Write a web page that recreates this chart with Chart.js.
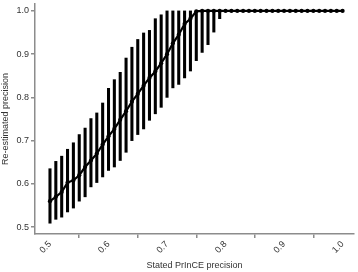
<!DOCTYPE html>
<html>
<head>
<meta charset="utf-8">
<script src="https://cdn.jsdelivr.net/npm/chart.js@4/dist/chart.umd.min.js"></script>
<style>
  html, body { margin: 0; padding: 0; background: #fff; }
  #wrap { width: 358px; height: 272px; position: relative; }
</style>
</head>
<body>
<div id="wrap"><canvas id="chartCanvas"></canvas></div>
<script>
// stated precision (x)
var stated = [0.50, 0.51, 0.52, 0.53, 0.54, 0.55, 0.56, 0.57, 0.58, 0.59,
              0.60, 0.61, 0.62, 0.63, 0.64, 0.65, 0.66, 0.67, 0.68, 0.69,
              0.70, 0.71, 0.72, 0.73, 0.74, 0.75, 0.76, 0.77, 0.78, 0.79,
              0.80, 0.81, 0.82, 0.83, 0.84, 0.85, 0.86, 0.87, 0.88, 0.89,
              0.90, 0.91, 0.92, 0.93, 0.94, 0.95, 0.96, 0.97, 0.98, 0.99, 1.00];
// re-estimated precision, median
var reEst = [0.560, 0.570, 0.581, 0.603, 0.608, 0.620, 0.639, 0.654, 0.670, 0.691,
             0.710, 0.727, 0.748, 0.768, 0.790, 0.808, 0.827, 0.845, 0.860, 0.879,
             0.900, 0.925, 0.945, 0.970, 0.982, 0.999, 1.0, 1.0, 1.0, 1.0,
             1.0, 1.0, 1.0, 1.0, 1.0, 1.0, 1.0, 1.0, 1.0, 1.0,
             1.0, 1.0, 1.0, 1.0, 1.0, 1.0, 1.0, 1.0, 1.0, 1.0, 1.0];
// interval upper bound
var upper = [0.635, 0.652, 0.664, 0.680, 0.695, 0.714, 0.729, 0.751, 0.764, 0.787,
             0.821, 0.841, 0.858, 0.891, 0.916, 0.934, 0.949, 0.955, 0.982, 0.991,
             1.0, 1.0, 1.0, 1.0, 1.0, 1.0, 1.0, 1.0, 1.0, 1.0,
             1.0, 1.0, 1.0, 1.0, 1.0, 1.0, 1.0, 1.0, 1.0, 1.0,
             1.0, 1.0, 1.0, 1.0, 1.0, 1.0, 1.0, 1.0, 1.0, 1.0, 1.0];
// interval lower bound
var lower = [0.509, 0.518, 0.523, 0.535, 0.544, 0.560, 0.570, 0.593, 0.603, 0.616,
             0.631, 0.639, 0.654, 0.673, 0.700, 0.714, 0.727, 0.747, 0.762, 0.777,
             0.800, 0.822, 0.830, 0.845, 0.861, 0.885, 0.904, 0.922, 0.951, 0.982,
             1.0, 1.0, 1.0, 1.0, 1.0, 1.0, 1.0, 1.0, 1.0, 1.0,
             1.0, 1.0, 1.0, 1.0, 1.0, 1.0, 1.0, 1.0, 1.0, 1.0, 1.0];

var xTicks = [0.5, 0.6, 0.7, 0.8, 0.9, 1.0];
var yTicks = [0.5, 0.6, 0.7, 0.8, 0.9, 1.0];

(function() {
  var axisColor = '#8c8c8c';
  var labelFont = { family: 'Liberation Sans, Arial, sans-serif', size: 9 };

  var linePts = stated.map(function(x, i) { return { x: x, y: reEst[i] }; });
  var barPts = stated.map(function(x, i) { return { x: x, y: [lower[i], upper[i]] }; });

  function fixedTicks(list) {
    return function(scale) {
      scale.ticks = list.map(function(v) { return { value: v }; });
    };
  }

  new Chart(document.getElementById('chartCanvas'), {
    type: 'bar',
    data: {
      datasets: [{
        type: 'line',
        data: linePts,
        borderColor: '#000',
        borderWidth: 2.2,
        pointRadius: 2.1,
        pointBackgroundColor: '#000',
        pointBorderWidth: 0,
        tension: 0,
        order: 0
      }, {
        type: 'bar',
        data: barPts,
        backgroundColor: '#000',
        borderWidth: 0,
        barThickness: 2.4,
        borderSkipped: false,
        order: 1
      }]
    },
    options: {
      responsive: true,
      maintainAspectRatio: false,
      animation: false,
      layout: { padding: { top: 3, right: 0, left: 0, bottom: 0 } },
      plugins: {
        legend: { display: false },
        tooltip: { enabled: false }
      },
      scales: {
        x: {
          type: 'linear',
          min: 0.4744,
          max: 1.0195,
          offset: false,
          afterBuildTicks: fixedTicks(xTicks),
          afterFit: function(s) {
            s.height = 38;
            s.paddingLeft = 0;
            s.paddingRight = 0;
          },
          border: { color: axisColor, width: 1.5 },
          grid: { drawOnChartArea: false, drawTicks: true, tickLength: 4, color: axisColor, lineWidth: 1.5 },
          ticks: {
            color: '#333',
            font: labelFont,
            minRotation: 45,
            maxRotation: 45,
            padding: 1,
            callback: function(v) { return v.toFixed(1); }
          },
          title: {
            display: true,
            text: 'Stated PrInCE precision',
            color: '#333',
            font: labelFont,
            padding: { top: 0, bottom: 1 }
          }
        },
        y: {
          min: 0.484,
          max: 1.016,
          afterBuildTicks: fixedTicks(yTicks),
          afterFit: function(s) {
            s.width = 35;
            s.paddingTop = 0;
            s.paddingBottom = 0;
          },
          border: { color: axisColor, width: 1.5 },
          grid: { drawOnChartArea: false, drawTicks: true, tickLength: 4, color: axisColor, lineWidth: 1.5 },
          ticks: {
            color: '#333',
            font: labelFont,
            padding: 2,
            callback: function(v) { return v.toFixed(1); }
          },
          title: {
            display: true,
            text: 'Re-estimated precision',
            color: '#333',
            font: labelFont,
            padding: { top: 0, bottom: 0 }
          }
        }
      }
    }
  });
})();
</script>
</body>
</html>
